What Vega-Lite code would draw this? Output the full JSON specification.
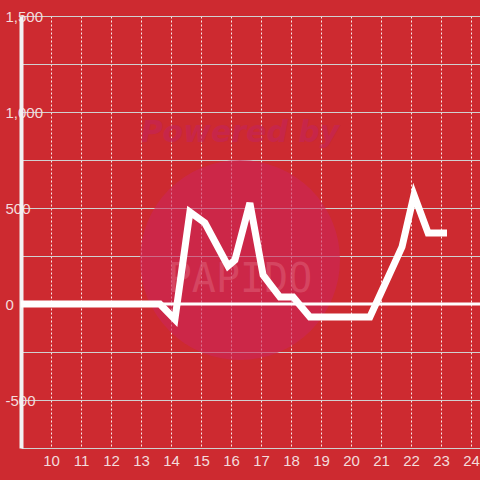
{
  "$schema": "https://vega.github.io/schema/vega-lite/v6.json",
  "width": 459,
  "height": 432,
  "autosize": "none",
  "padding": {"left": 21, "top": 16, "right": 0, "bottom": 32},
  "background": "#cd2a30",
  "config": {
    "view": {"stroke": null},
    "font": "Liberation Sans",
    "axis": {"labelOverlap": false, "labelFontSize": 15, "labelColor": "#f3dcdc", "labelFont": "Liberation Sans", "ticks": false, "title": null},
    "axisX": {"gridColor": "#ffffff", "gridDash": [2, 2], "gridWidth": 1, "gridOpacity": 0.9, "domain": false, "labelPadding": 5},
    "axisY": {"gridColor": "#d0d0d0", "gridWidth": 1, "domain": true, "domainColor": "#f2f2f2", "domainWidth": 4, "labelAlign": "left", "labelPadding": 16}
  },
  "datasets": {
    "series": [
      {"t": 9.0, "v": 0}, {"t": 9.63, "v": 0}, {"t": 10.13, "v": 0}, {"t": 10.63, "v": 0},
      {"t": 11.13, "v": 0}, {"t": 11.63, "v": 0}, {"t": 12.13, "v": 0}, {"t": 12.63, "v": 0},
      {"t": 13.13, "v": 0}, {"t": 13.63, "v": 0}, {"t": 14.13, "v": -80}, {"t": 14.63, "v": 479},
      {"t": 15.13, "v": 422}, {"t": 15.9, "v": 198}, {"t": 16.13, "v": 229}, {"t": 16.63, "v": 526},
      {"t": 17.07, "v": 151}, {"t": 17.63, "v": 36}, {"t": 18.07, "v": 36}, {"t": 18.63, "v": -68},
      {"t": 19.13, "v": -68}, {"t": 19.63, "v": -68}, {"t": 20.13, "v": -68}, {"t": 20.63, "v": -68},
      {"t": 21.7, "v": 297}, {"t": 22.1, "v": 568}, {"t": 22.57, "v": 370}, {"t": 23.2, "v": 370}
    ],
    "zero": [{"t": 9.0, "v": 0}, {"t": 24.3, "v": 0}],
    "wm": [
      {"t": 16.3, "v": 229, "kind": "circle", "label": ""},
      {"t": 16.3, "v": 890, "kind": "powered", "label": "Powered by"},
      {"t": 16.3, "v": 125, "kind": "brand", "label": "PAPIDO"}
    ]
  },
  "encoding": {
    "x": {"field": "t", "type": "quantitative", "scale": {"domain": [9, 24.3], "nice": false, "zero": false},
      "axis": {"values": [10,11,12,13,14,15,16,17,18,19,20,21,22,23,24], "tickCount": 15, "tickMinStep": 1, "grid": true, "labelOverlap": false}},
    "y": {"field": "v", "type": "quantitative", "scale": {"domain": [-750, 1500], "nice": false, "zero": false},
      "axis": {"values": [-750, -500, -250, 0, 250, 500, 750, 1000, 1250, 1500], "grid": true, "labelOverlap": false,
        "labelExpr": "datum.value % 500 == 0 ? replace(format(datum.value, ','), '\u2212', '-') : ''"}}
  },
  "layer": [
    {
      "data": {"name": "wm"},
      "transform": [{"filter": "datum.kind == 'circle'"}],
      "mark": {"type": "point", "filled": true, "size": 40000, "color": "#cb2758", "opacity": 0.6, "strokeWidth": 0}
    },
    {
      "data": {"name": "wm"},
      "transform": [{"filter": "datum.kind == 'powered'"}],
      "mark": {"type": "text", "fontSize": 30, "fontWeight": "bold", "fontStyle": "italic", "color": "#c4245a", "opacity": 0.6, "font": "DejaVu Sans"},
      "encoding": {"text": {"field": "label"}}
    },
    {
      "data": {"name": "wm"},
      "transform": [{"filter": "datum.kind == 'brand'"}],
      "mark": {"type": "text", "fontSize": 40, "color": "#e06a80", "opacity": 0.45, "font": "DejaVu Sans Mono"},
      "encoding": {"text": {"field": "label"}}
    },
    {
      "data": {"name": "zero"},
      "mark": {"type": "line", "color": "#ffffff", "strokeWidth": 3}
    },
    {
      "data": {"name": "series"},
      "mark": {"type": "line", "color": "#ffffff", "strokeWidth": 7, "strokeJoin": "miter", "clip": true}
    }
  ]
}
